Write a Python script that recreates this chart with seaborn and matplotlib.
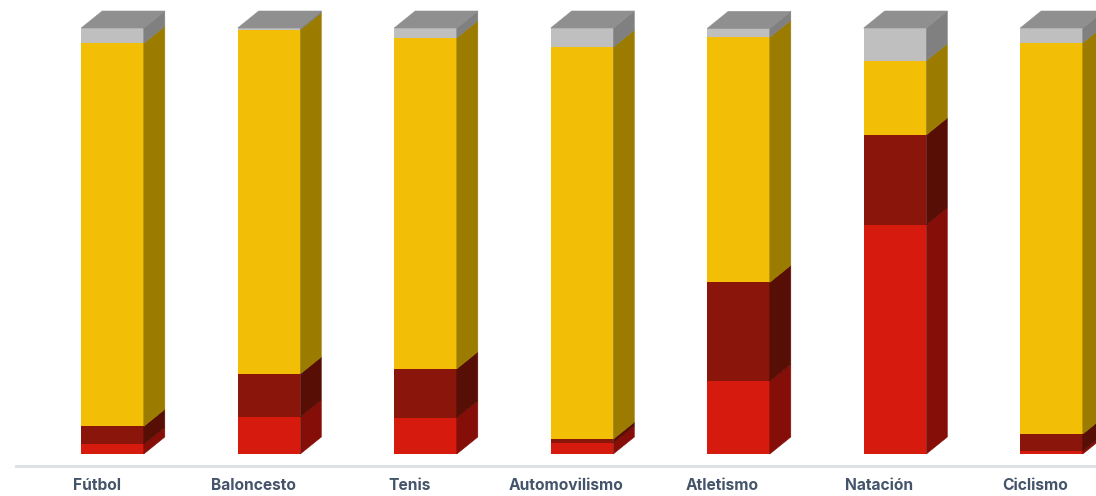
import matplotlib.pyplot as plt
import numpy as np
import pandas as pd
import seaborn as sns
from matplotlib.patches import Polygon
from matplotlib.transforms import ScaledTranslation

deportes = ["Fútbol", "Baloncesto", "Tenis", "Automovilismo", "Atletismo", "Natación", "Ciclismo"]
rojo = [2.3, 8.7, 8.5, 2.6, 17.1, 53.8, 0.7]
granate = [4.2, 10.1, 11.5, 0.9, 23.2, 21.1, 4.0]
amarillo = [89.9, 80.8, 77.7, 92.0, 57.5, 17.4, 91.8]
gris = [3.6, 0.4, 2.3, 4.5, 2.1, 7.7, 3.5]

front_colors = ["#d71a0e", "#8a150a", "#f2be06", "#bfbfbf"]
side_colors = ["#850e08", "#570e04", "#9b7c00", "#808080"]
top_color = "#8f8f8f"

W, H = 1096, 496
PX_PER_CAT = 156.5
PX_PER_PCT = 4.26
DEPTH_X = 21 / PX_PER_CAT
DEPTH_Y = 17 / PX_PER_PCT

sns.set_theme(style="white")
plt.rcParams["font.family"] = ["Inter", "DejaVu Sans"]

fig = plt.figure(figsize=(W / 100, H / 100), dpi=100)
# axes spans from the start of the axis line to the top right corner of the figure
ax = fig.add_axes([16 / W, (H - 466) / H, (W - 16) / W, 466 / H])

df = pd.DataFrame({"deporte": deportes, "rojo": rojo, "granate": granate, "amarillo": amarillo, "gris": gris})

bottom = np.zeros(len(deportes))
for name, color, side in zip(df.columns[1:], front_colors, side_colors):
    n_before = len(ax.patches)
    sns.barplot(data=df, x="deporte", y=name, color=color, saturation=1, width=0.4,
                bottom=bottom, ax=ax, linewidth=0, zorder=3)
    # side face of every segment, offset from the front rectangle
    for bar in ax.patches[n_before:]:
        x1 = bar.get_x() + bar.get_width()
        y0, y1 = bar.get_y(), bar.get_y() + bar.get_height()
        ax.add_patch(Polygon([(x1, y0), (x1 + DEPTH_X, y0 + DEPTH_Y), (x1 + DEPTH_X, y1 + DEPTH_Y), (x1, y1)],
                             closed=True, facecolor=side, edgecolor=side, linewidth=0.4, zorder=3))
    bottom = bottom + df[name].to_numpy()

# top face
half = 0.2
for i, total in enumerate(bottom):
    ax.add_patch(Polygon([(i - half, total), (i - half + DEPTH_X, total + DEPTH_Y),
                          (i + half + DEPTH_X, total + DEPTH_Y), (i + half, total)],
                         closed=True, facecolor=top_color, edgecolor=top_color, linewidth=0.4, zorder=3))

ax.set_xlim((16 - 112.5) / PX_PER_CAT, (W - 112.5) / PX_PER_CAT)
ax.set_ylim(-12 / PX_PER_PCT, 454 / PX_PER_PCT)
ax.set_xlabel("")
ax.set_ylabel("")
ax.set_yticks([])
ax.tick_params(axis="x", length=0, pad=9)

# the labels sit a bit left of their bars in the original
shift = ScaledTranslation(-16 / 100, 0, fig.dpi_scale_trans)
for label in ax.get_xticklabels():
    label.set_fontsize(11.2)
    label.set_fontweight("bold")
    label.set_color("#44546a")
    label.set_transform(label.get_transform() + shift)

sns.despine(ax=ax, left=True, right=True, top=True)
ax.spines["bottom"].set_color("#dfe2e5")
ax.spines["bottom"].set_linewidth(2.2)

fig.savefig("out.png", dpi=100)
